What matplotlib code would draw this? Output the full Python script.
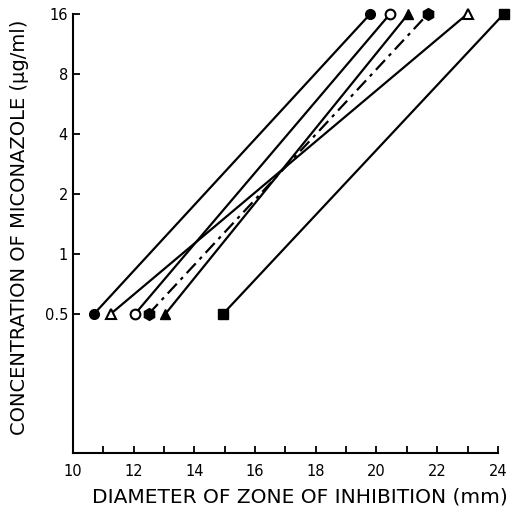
import numpy as np
import matplotlib.pyplot as plt

# concentrations (ug/ml) at the two ends of each line
conc = [0.5, 16]

# zone diameters (mm) at 0.5 and at 16 ug/ml, one pair per strain
d_circle = [10.7, 19.8]
d_open_tri = [11.25, 23.0]
d_open_circle = [12.05, 20.45]
d_hexagon = [12.5, 21.7]
d_tri = [13.05, 21.05]
d_square = [14.95, 24.2]

yticks = [0.5, 1, 2, 4, 8, 16]
ytick_labels = ["0.5", "1", "2", "4", "8", "16"]
xticks = [10, 12, 14, 16, 18, 20, 22, 24]

fig = plt.figure(figsize=(5.17, 5.12), dpi=100)
ax = fig.add_axes([0.141, 0.115, 0.822, 0.858])

kw = dict(color="black", lw=1.6, ms=7, clip_on=False)
ax.plot(d_circle, conc, "-", marker="o", mfc="black", **kw)
ax.plot(d_open_tri, conc, "-", marker="^", mfc="white", mew=1.5, **kw)
ax.plot(d_open_circle, conc, "-", marker="o", mfc="white", mew=1.5, **kw)
kw_h = dict(kw, ms=8.5)
ax.plot(d_hexagon, conc, marker="h", mfc="black", dashes=[6, 2.5, 1.5, 2.5], **kw_h)
ax.plot(d_tri, conc, "-", marker="^", mfc="black", **kw)
ax.plot(d_square, conc, "-", marker="s", mfc="black", **kw)

ax.set_yscale("log", base=2)
ax.set_ylim(0.1, 16)
ax.set_xlim(10, 24)
ax.set_yticks(yticks)
ax.set_yticklabels(ytick_labels)
ax.minorticks_off()
ax.set_xticks(xticks)
ax.set_xticks(np.arange(11, 24, 2), minor=True)

for s in ["top", "right"]:
    ax.spines[s].set_visible(False)
for s in ["left", "bottom"]:
    ax.spines[s].set_linewidth(1.5)

ax.tick_params(axis="both", which="both", direction="in", length=5, width=1.3,
               labelsize=10.5)
ax.tick_params(axis="x", which="both", pad=8)
ax.tick_params(axis="y", which="both", pad=3.5)

ax.set_xlabel("DIAMETER OF ZONE OF INHIBITION (mm)", fontsize=14.5)
ax.set_ylabel("CONCENTRATION OF MICONAZOLE (\u00b5g/ml)", fontsize=14)
ax.xaxis.set_label_coords(0.534, -0.100)
ax.xaxis.label.set_va("center")
ax.yaxis.set_label_coords(-0.125, 0.513)
ax.yaxis.label.set_va("center")

fig.savefig("out.png", dpi=100)
